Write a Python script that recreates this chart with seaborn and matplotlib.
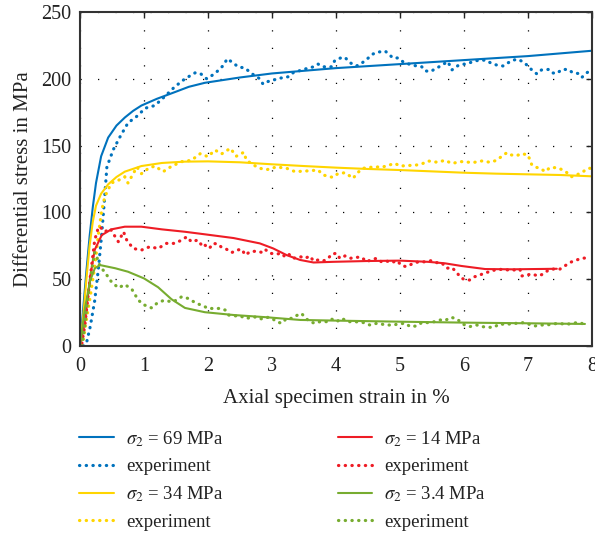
import numpy as np
import pandas as pd
import matplotlib
matplotlib.use("Agg")
import matplotlib.pyplot as plt
import seaborn as sns

# ---------------- data ----------------
blue_model_x = [0, 0.05, 0.10, 0.15, 0.20, 0.25, 0.33, 0.44, 0.57, 0.70, 0.83, 0.96, 1.2, 1.48, 1.7, 1.95,
                2.5, 3.0, 3.5, 4.0, 4.5, 5.0, 5.5, 6.0, 6.5, 7.0, 7.5, 8.0]
blue_model_y = [0, 28, 56, 82, 104, 122, 142, 156, 165, 171, 176, 180, 185, 190, 194, 197,
                201, 204, 206, 208, 209.5, 211, 212.5, 214, 215.5, 217, 219, 221]

blue_exp_x = [0.05, 0.10, 0.16, 0.23, 0.29, 0.34, 0.38, 0.42, 0.52, 0.63, 0.75, 0.89, 1.02, 1.17, 1.33, 1.48,
              1.64, 1.80, 1.88, 1.98, 2.11, 2.24, 2.30, 2.39, 2.47, 2.58, 2.68, 2.81, 2.86, 2.94, 3.13, 3.25,
              3.33, 3.49, 3.65, 3.72, 3.80, 3.93, 3.98, 4.09, 4.14, 4.22, 4.32, 4.40, 4.48, 4.58, 4.66, 4.77,
              4.82, 4.89, 4.97, 5.05, 5.18, 5.34, 5.39, 5.47, 5.57, 5.67, 5.75, 5.81, 5.91, 6.06, 6.20, 6.33,
              6.43, 6.51, 6.61, 6.69, 6.77, 6.84, 6.92, 7.00, 7.06, 7.14, 7.21, 7.32, 7.37, 7.45, 7.53, 7.63,
              7.70, 7.78, 7.84, 7.92, 7.99]
blue_exp_y = [0, 2, 14.5, 34, 59, 84, 108, 134, 147, 157, 167, 172, 178, 180, 187, 194,
              200, 204.5, 204, 200, 204, 210, 215, 212, 209, 208, 204, 200, 196, 198, 200.5, 201.5,
              204.5, 207, 209, 211, 209, 209, 213.6, 216, 216, 212, 209.6, 211.6, 214.6, 218.6, 220, 220.7,
              218.6, 215.6, 215.6, 212.6, 210.3, 209, 206, 205.4, 207.8, 210.8, 212.8, 206.6, 210, 211.6, 213.6, 214,
              211.6, 210.3, 209.6, 212, 214, 214.6, 212.8, 209.6, 206.6, 203.6, 206.6, 207, 204.5, 204, 207, 207,
              204.5, 204, 201, 204.5, 207]

yellow_model_x = [0, 0.05, 0.10, 0.15, 0.20, 0.25, 0.33, 0.44, 0.57, 0.70, 0.96, 1.28, 1.64, 2.0, 2.5,
                  3.0, 3.5, 4.0, 4.5, 5.0, 5.5, 6.0, 6.5, 7.0, 7.5, 8.0]
yellow_model_y = [0, 22, 50, 75, 93, 105, 114, 121, 126.5, 130.5, 134.7, 137, 138, 138.2, 137.5,
                  136, 134.7, 133.5, 132.5, 131.7, 130.7, 129.7, 129, 128.5, 128, 127]

yellow_exp_x = [0.03, 0.05, 0.10, 0.16, 0.23, 0.29, 0.34, 0.39, 0.49, 0.60, 0.70, 0.75, 0.89, 0.96, 1.07, 1.17,
                1.30, 1.43, 1.59, 1.74, 1.88, 2.00, 2.11, 2.21, 2.35, 2.44, 2.56, 2.60, 2.73, 2.81, 2.92, 3.07,
                3.23, 3.36, 3.54, 3.72, 3.80, 3.95, 4.03, 4.14, 4.27, 4.32, 4.42, 4.58, 4.73, 4.92, 5.00, 5.10,
                5.26, 5.36, 5.44, 5.59, 5.70, 5.81, 5.96, 6.14, 6.28, 6.41, 6.51, 6.59, 6.67, 6.74, 6.82, 6.90,
                7.00, 7.06, 7.11, 7.19, 7.27, 7.34, 7.45, 7.55, 7.63, 7.68, 7.76, 7.86, 7.94, 8.00]
yellow_exp_y = [0, 4.5, 19.5, 37, 59.4, 84.3, 102, 112, 122, 124, 126.7, 122, 134, 129, 133, 134.7,
                130.5, 134.5, 138, 139, 144, 141.7, 146.7, 143.7, 148, 142, 145, 139, 135, 133, 132, 134,
                133, 130.5, 131, 131.7, 128, 126.2, 129, 129.7, 125.5, 129, 133, 134, 134, 136.7, 134.7, 135,
                135.5, 136.7, 138.5, 137.5, 139, 136.7, 138, 137.3, 138.5, 137.5, 139, 142, 144.7, 143, 142.4, 144,
                143, 135.5, 134, 133, 130.5, 133.5, 133.5, 131.7, 129, 126.7, 128, 130.5, 133, 133]

red_model_x = [0, 0.05, 0.08, 0.16, 0.23, 0.34, 0.49, 0.70, 0.96, 1.28, 1.64, 1.95, 2.40, 2.81, 3.02, 3.23,
               3.44, 3.65, 3.95, 4.48, 5.0, 5.44, 5.70, 5.96, 6.33, 6.75, 7.45]
red_model_y = [0, 12, 20, 52, 72, 83, 87.3, 89.3, 89.3, 87.3, 85.5, 83.6, 80.8, 76.8, 73, 68,
               64.4, 62.5, 63, 63.6, 63.9, 63, 61.9, 59.9, 57.6, 57.4, 57.8]

red_exp_x = [0.03, 0.08, 0.13, 0.18, 0.23, 0.29, 0.34, 0.39, 0.47, 0.55, 0.60, 0.68, 0.73, 0.83, 0.96, 1.09,
             1.22, 1.35, 1.48, 1.59, 1.67, 1.74, 1.84, 1.92, 1.95, 2.02, 2.08, 2.16, 2.21, 2.29, 2.37, 2.45,
             2.53, 2.58, 2.66, 2.76, 2.84, 2.89, 2.97, 3.07, 3.15, 3.20, 3.26, 3.33, 3.44, 3.52, 3.59, 3.65,
             3.72, 3.80, 3.88, 3.93, 4.01, 4.06, 4.14, 4.22, 4.30, 4.40, 4.48, 4.56, 4.64, 4.71, 4.79, 4.87,
             4.95, 5.03, 5.10, 5.21, 5.29, 5.39, 5.49, 5.57, 5.65, 5.73, 5.81, 5.89, 5.94, 6.02, 6.09, 6.17,
             6.25, 6.33, 6.41, 6.48, 6.59, 6.69, 6.80, 6.875, 6.90, 6.98, 7.06, 7.16, 7.24, 7.32, 7.40, 7.50,
             7.58, 7.66, 7.76, 7.84, 7.94]
red_exp_y = [2, 17, 39.4, 59.4, 79.3, 89.3, 88, 85.5, 88, 81.8, 78, 85.5, 79.3, 73, 71.8, 74.3,
             73, 76.8, 76.8, 79.3, 81.8, 78, 79.3, 74.3, 75.6, 73, 76.8, 76.3, 73.9, 72.4, 69.9, 71.8,
             72.4, 68.1, 70.6, 71, 70.1, 72.4, 69.4, 68.8, 69.4, 66.9, 68.8, 65.6, 66.9, 65.6, 67.4, 63.6,
             64.4, 63.6, 65.6, 68.8, 69.4, 65.6, 67.4, 65.6, 66.4, 66.4, 63, 64.9, 65.6, 63, 63.6, 62.4,
             63.9, 60.1, 59.4, 61.9, 63, 63, 63.9, 62.4, 62.4, 58.2, 58.7, 55, 51.4, 49.4, 49.4, 51.9,
             53.1, 54.9, 55.6, 56.9, 57.4, 56.9, 56.9, 57.4, 52.4, 53.1, 53.9, 52.4, 53.9, 56.9, 57.6, 57.6,
             60.1, 62.6, 64.4, 65.6, 66.1]

green_model_x = [0, 0.08, 0.16, 0.23, 0.31, 0.55, 0.75, 1.0, 1.22, 1.43, 1.64, 1.95, 2.4, 2.92, 3.44,
                 4.0, 5.0, 6.0, 7.0, 7.89]
green_model_y = [0, 29, 49, 58, 60.6, 58.2, 55.6, 50.6, 44, 35, 28.5, 25.3, 23.2, 21.5, 19.5,
                 19, 18.2, 17.5, 17, 16.5]

green_exp_x = [0.03, 0.08, 0.13, 0.20, 0.23, 0.26, 0.31, 0.36, 0.42, 0.49, 0.60, 0.70, 0.81, 0.91, 0.99, 1.12,
               1.20, 1.30, 1.46, 1.59, 1.69, 1.82, 1.93, 2.00, 2.11, 2.19, 2.27, 2.32, 2.40, 2.50, 2.58, 2.68,
               2.76, 2.84, 2.94, 3.02, 3.07, 3.15, 3.23, 3.31, 3.40, 3.46, 3.53, 3.59, 3.67, 3.75, 3.85, 3.93,
               4.01, 4.09, 4.19, 4.30, 4.43, 4.53, 4.64, 4.79, 4.90, 4.97, 5.08, 5.16, 5.26, 5.34, 5.44, 5.54,
               5.625, 5.70, 5.80, 5.89, 5.99, 6.09, 6.20, 6.28, 6.38, 6.47, 6.55, 6.64, 6.72, 6.82, 6.93, 7.00,
               7.11, 7.19, 7.29, 7.40, 7.47, 7.55, 7.66, 7.76, 7.84, 7.92]
green_exp_y = [0, 17, 39, 62, 70, 67, 60, 56.9, 53, 48.1, 43.5, 46, 42.5, 34.4, 31, 28.5,
               31.9, 34, 33.1, 36.9, 35.6, 31.9, 30, 28.1, 28.1, 28.1, 26.9, 23.2, 22.5, 22.7, 20.7, 21.2,
               21.9, 20.2, 21.5, 20, 18.2, 17, 20.7, 20.7, 23.2, 24.4, 20.7, 18.2, 17, 18.2, 18.2, 20.2,
               18.2, 20.7, 18.2, 18.2, 17.5, 15.7, 17, 15.7, 15.7, 16.5, 17, 14.5, 15, 17.5, 17.5, 18.2,
               19.5, 19, 21.5, 20.2, 16.2, 14.5, 15.7, 14.5, 14, 14, 16.5, 16.2, 16.5, 17, 17.5, 16.5,
               15, 15.7, 15.7, 16.5, 17, 16.5, 16.5, 17.5, 17, 13.7]

labels = [r"$\sigma_2$ = 69 MPa", "experiment", r"$\sigma_2$ = 34 MPa", "experiment",
          r"$\sigma_2$ = 14 MPa", "experiment", r"$\sigma_2$ = 3.4 MPa", "experiment"]
x_ticks = [0, 1, 2, 3, 4, 5, 6, 7, 8]
y_ticks = [0, 50, 100, 150, 200, 250]

# ---------------- style ----------------
sns.set_theme(style="white")
plt.rcParams["font.family"] = ["Liberation Serif", "DejaVu Serif"]
plt.rcParams["mathtext.fontset"] = "stix"

C_BLUE = "#0072BD"
C_YELLOW = "#FFD500"
C_RED = "#EE1C25"
C_GREEN = "#77AC30"
TXT = "#222222"

fig = plt.figure(figsize=(5.95, 5.34), dpi=100)
ax = fig.add_axes([80 / 595, 1 - 346 / 534, (592 - 80) / 595, (346 - 12) / 534])

dot_style = dict(linestyle=(0, (0.1, 2.0)), dash_capstyle="round", linewidth=2.3)
solid_style = dict(linestyle="-", linewidth=1.5)

series = [
    (blue_model_x, blue_model_y, C_BLUE, solid_style, labels[0]),
    (blue_exp_x, blue_exp_y, C_BLUE, dot_style, labels[1]),
    (yellow_model_x, yellow_model_y, C_YELLOW, solid_style, labels[2]),
    (yellow_exp_x, yellow_exp_y, C_YELLOW, dot_style, labels[3]),
    (red_model_x, red_model_y, C_RED, solid_style, labels[4]),
    (red_exp_x, red_exp_y, C_RED, dot_style, labels[5]),
    (green_model_x, green_model_y, C_GREEN, solid_style, labels[6]),
    (green_exp_x, green_exp_y, C_GREEN, dot_style, labels[7]),
]
handles = []
for xs, ys, col, sty, lab in series:
    df = pd.DataFrame({"x": xs, "y": ys})
    sns.lineplot(data=df, x="x", y="y", color=col, ax=ax, sort=False, estimator=None, **sty)
    handles.append(ax.lines[-1])

ax.set_xlim(0, 8)
ax.set_ylim(0, 250)
ax.set_xticks(x_ticks)
ax.set_yticks(y_ticks)
ax.set_xticklabels([str(t) for t in x_ticks])
ax.set_yticklabels([str(t) for t in y_ticks])
ax.grid(True, color="black", linestyle=(0, (1, 13)), linewidth=0.9)
ax.tick_params(direction="in", length=4, width=1, top=True, right=True, labelsize=14.5,
               colors=TXT)
ax.tick_params(axis="y", pad=6)
ax.tick_params(axis="x", pad=8)
for s in ax.spines.values():
    s.set_color("#333333")
    s.set_linewidth(1.5)
ax.set_xlabel("Axial specimen strain in %", fontsize=15, color=TXT, labelpad=9)
ax.set_ylabel("Differential stress in MPa", fontsize=15, color=TXT, labelpad=6)

leg = fig.legend(handles, labels, loc="upper left", bbox_to_anchor=(79 / 595, 1 - 429 / 534),
                 ncol=2, frameon=False, fontsize=13.5, handlelength=1.85, handletextpad=0.65,
                 columnspacing=6.1, labelspacing=0.5, borderpad=0, borderaxespad=0)
for t in leg.get_texts():
    t.set_color(TXT)

fig.savefig("out.png", dpi=100)
